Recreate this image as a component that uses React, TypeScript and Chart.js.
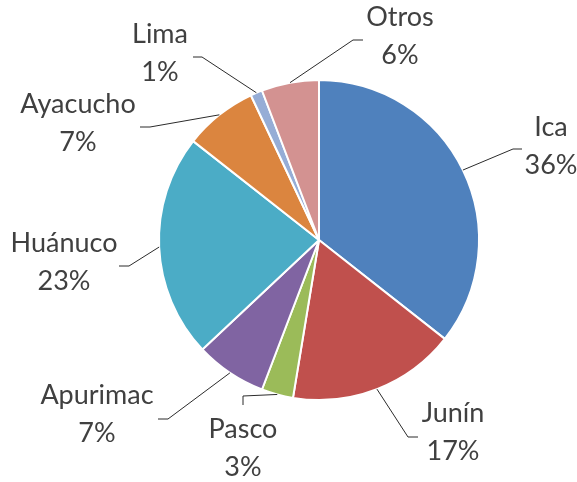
import React, { useEffect, useRef } from "react";
import { Chart, registerables } from "chart.js";

Chart.register(...registerables);

const categories = ["Ica", "Junín", "Pasco", "Apurimac", "Huánuco", "Ayacucho", "Lima", "Otros"];
const values = [35.6, 17.0, 3.2, 7.2, 22.6, 7.4, 1.2, 5.8];
const colors = ["#4F81BD", "#C0504D", "#9BBB59", "#8064A2", "#4BACC6", "#DB853F", "#96ADD6", "#D39291"];

// label layout: first-line centre, then elbow and end of the leader line
const labelCenters = [
  [551, 127], [453, 413], [243, 429], [97, 395], [64, 243], [78, 104], [160, 34], [400, 17],
];
const leaderElbows = [
  [513, 149], [408, 437], [243, 396], [168, 419], [129, 266], [150, 127], [202, 57], [353, 40],
];
const leaderEnds = [
  [522, 149], [418, 437], [243, 405], [158, 419], [119, 266], [140, 127], [193, 57], [363, 40],
];

const FONT = "27px Lato, 'Open Sans', sans-serif";
const LINE_GAP = 38;

const labelPlugin = {
  id: "outerLabels",
  afterDraw(chart: any) {
    const ctx = chart.ctx as CanvasRenderingContext2D;
    const meta = chart.getDatasetMeta(0);
    const total = values.reduce((a, b) => a + b, 0);
    ctx.save();
    meta.data.forEach((arc: any, i: number) => {
      const { x, y, startAngle, endAngle, outerRadius } = arc.getProps(
        ["x", "y", "startAngle", "endAngle", "outerRadius"],
        true
      );
      const mid = (startAngle + endAngle) / 2;
      const sx = x + Math.cos(mid) * outerRadius;
      const sy = y + Math.sin(mid) * outerRadius;
      ctx.strokeStyle = "#2b2b2b";
      ctx.lineWidth = 1;
      ctx.beginPath();
      ctx.moveTo(sx, sy);
      ctx.lineTo(leaderElbows[i][0], leaderElbows[i][1]);
      ctx.lineTo(leaderEnds[i][0], leaderEnds[i][1]);
      ctx.stroke();

      const pct = Math.round((values[i] / total) * 100) + "%";
      ctx.fillStyle = "#404040";
      ctx.font = FONT;
      ctx.textAlign = "center";
      ctx.textBaseline = "middle";
      ctx.fillText(categories[i], labelCenters[i][0], labelCenters[i][1]);
      ctx.fillText(pct, labelCenters[i][0], labelCenters[i][1] + LINE_GAP);
    });
    ctx.restore();
  },
};

export default function App() {
  const ref = useRef<HTMLCanvasElement | null>(null);
  useEffect(() => {
    document.body.style.margin = "0";
    const canvas = ref.current;
    if (!canvas) return;
    const chart = new Chart(canvas, {
      type: "pie",
      data: {
        labels: categories,
        datasets: [
          {
            data: values,
            backgroundColor: colors,
            borderColor: "#FFFFFF",
            borderWidth: 2,
            hoverOffset: 0,
            offset: 0,
          },
        ],
      },
      options: {
        responsive: false,
        animation: false,
        events: [],
        layout: { padding: { left: 158, right: 97, top: 79, bottom: 81 } },
        plugins: {
          legend: { display: false },
          tooltip: { enabled: false },
          title: { display: false },
        },
      },
      plugins: [labelPlugin],
    });
    return () => chart.destroy();
  }, []);
  return (
    <div style={{ position: "absolute", left: 0, top: 0, width: 577, height: 482, background: "#fff" }}>
      <canvas ref={ref} width={577} height={482} style={{ display: "block" }} />
    </div>
  );
}
